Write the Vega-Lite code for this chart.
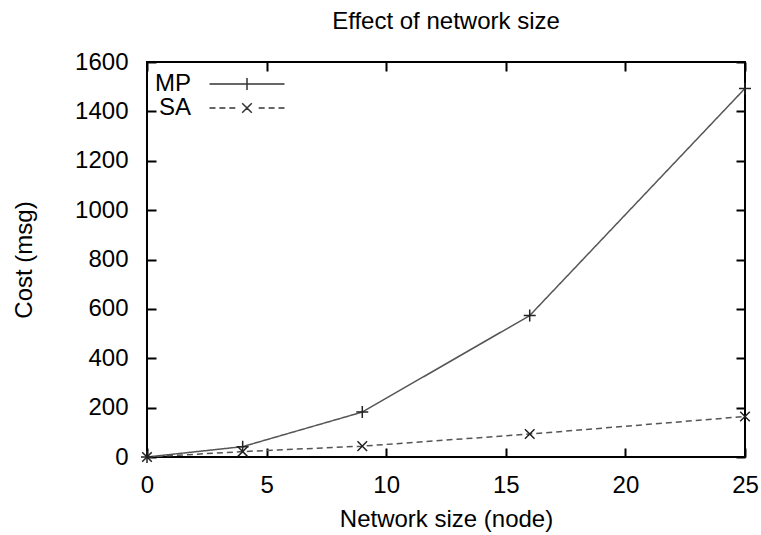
{
  "$schema": "https://vega.github.io/schema/vega-lite/v6.json",
  "width": 598,
  "height": 395,
  "autosize": {"type": "none"},
  "padding": {"left": 147, "top": 62, "right": 16, "bottom": 78},
  "background": "white",
  "config": {
    "font": "Liberation Sans",
    "view": {"stroke": "black", "strokeWidth": 2},
    "axis": {
      "domain": false,
      "grid": false,
      "ticks": true,
      "tickSize": -9,
      "tickWidth": 2,
      "tickColor": "black",
      "labelFont": "Liberation Sans",
      "labelFontSize": 24,
      "labelColor": "black",
      "labelFlush": false,
      "labelOverlap": false,
      "titleFont": "Liberation Sans",
      "titleFontSize": 24,
      "titleFontWeight": "normal",
      "titleColor": "black"
    }
  },
  "title": {
    "text": "Effect of network size",
    "font": "Liberation Sans",
    "fontSize": 24,
    "fontWeight": "normal",
    "color": "black",
    "offset": 16
  },
  "data": {
    "values": [
      {"size": 0, "cost": 0, "series": "MP"},
      {"size": 4, "cost": 42, "series": "MP"},
      {"size": 9, "cost": 182, "series": "MP"},
      {"size": 16, "cost": 573, "series": "MP"},
      {"size": 25, "cost": 1493, "series": "MP"},
      {"size": 0, "cost": 0, "series": "SA"},
      {"size": 4, "cost": 22, "series": "SA"},
      {"size": 9, "cost": 44, "series": "SA"},
      {"size": 16, "cost": 93, "series": "SA"},
      {"size": 25, "cost": 164, "series": "SA"}
    ]
  },
  "layer": [
    {
      "mark": {"type": "line", "color": "#555555", "strokeWidth": 1.5},
      "encoding": {
        "x": {
          "field": "size", "type": "quantitative",
          "scale": {"domain": [0, 25], "nice": false},
          "axis": {"orient": "bottom", "values": [0, 5, 10, 15, 20, 25], "format": "d", "title": "Network size (node)", "labelPadding": 25, "titlePadding": 10}
        },
        "y": {
          "field": "cost", "type": "quantitative",
          "scale": {"domain": [0, 1600], "nice": false},
          "axis": {"orient": "left", "values": [0, 200, 400, 600, 800, 1000, 1200, 1400, 1600], "format": "d", "title": "Cost (msg)", "labelPadding": 28, "titlePadding": 38}
        },
        "strokeDash": {
          "field": "series", "type": "nominal",
          "scale": {"domain": ["MP", "SA"], "range": [[1, 0], [6, 4]]},
          "legend": null
        }
      }
    },
    {
      "mark": {"type": "point", "filled": false, "color": "#222222", "strokeWidth": 1.5, "size": 144, "opacity": 1},
      "encoding": {
        "x": {
          "field": "size", "type": "quantitative",
          "axis": {"orient": "top", "values": [0, 5, 10, 15, 20, 25], "labels": false, "title": null}
        },
        "y": {
          "field": "cost", "type": "quantitative",
          "axis": {"orient": "right", "values": [0, 200, 400, 600, 800, 1000, 1200, 1400, 1600], "labels": false, "title": null}
        },
        "shape": {
          "field": "series", "type": "nominal",
          "scale": {"domain": ["MP", "SA"], "range": ["M-1,0H1M0,-1V1", "M-0.8,-0.8L0.8,0.8M-0.8,0.8L0.8,-0.8"]},
          "legend": null
        }
      }
    },
    {
      "mark": {"type": "point", "filled": false, "color": "#333333", "strokeWidth": 1.5, "opacity": 0},
      "encoding": {
        "x": {"field": "size", "type": "quantitative", "axis": null},
        "y": {"field": "cost", "type": "quantitative", "axis": null},
        "shape": {
          "field": "series", "type": "nominal",
          "scale": {"domain": ["MP", "SA"], "range": [
            "M-6.25,0H6.25M0,-1V1",
            "M-6.25,0H-5.25M-4.6,0H-3.6M-2.95,0H-1.95M-0.8,-0.8L0.8,0.8M-0.8,0.8L0.8,-0.8M1.95,0H2.95M3.6,0H4.6M5.25,0H6.25"
          ]},
          "legend": {
            "orient": "none",
            "legendX": 88,
            "legendY": 10,
            "title": null,
            "symbolSize": 144,
            "symbolStrokeColor": "#333333",
            "symbolStrokeWidth": 1.5,
            "symbolFillColor": "transparent",
            "symbolOpacity": 1,
            "labelFont": "Liberation Sans",
            "labelFontSize": 24,
            "labelColor": "black",
            "labelAlign": "right",
            "labelOffset": -68,
            "rowPadding": 0,
            "padding": 0
          }
        }
      }
    }
  ],
  "resolve": {"scale": {"shape": "independent"}, "axis": {"x": "independent", "y": "independent"}}
}
